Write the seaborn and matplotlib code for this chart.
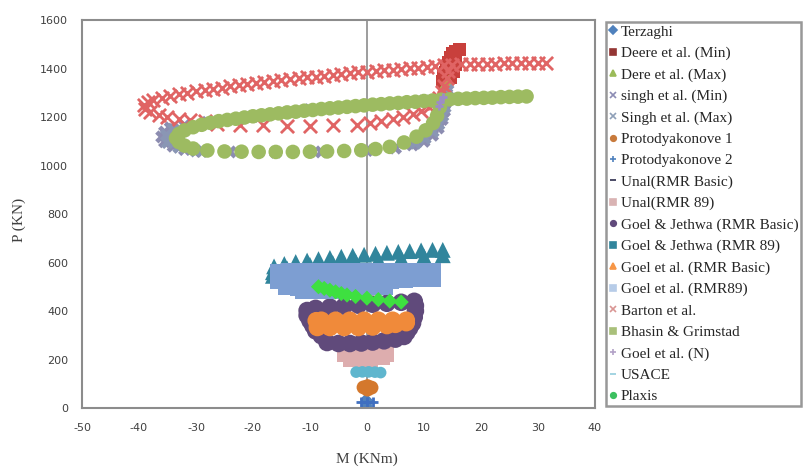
import numpy as np
import pandas as pd
import matplotlib
matplotlib.use("Agg")
import matplotlib.pyplot as plt
from matplotlib.lines import Line2D
import seaborn as sns

# M (KNm) / P (KN), one pair of lists per method
terzaghi_m = [0.0, 0.0, 0.2, -0.2]
terzaghi_p = [8, 18, 28, 36]

deere_min_m = [13.2, 13.5, 13.8, 14.0, 14.3, 14.6, 15.0, 15.5, 16.2, 15.2, 15.6, 15.2, 14.6]
deere_min_p = [1345, 1365, 1385, 1405, 1425, 1445, 1460, 1470, 1478, 1440, 1415, 1390, 1365]

dere_max_m = [12.9, 13.2, 13.5, 13.9, 14.3]
dere_max_p = [1302, 1315, 1328, 1340, 1352]

singh_min_m = [14.0, 13.8, 13.6, 13.2, 12.5, 11.5, 10.0, 8.0, 5.0, 0.0, -8.0, -16.0, -24.0,
               -29.0, -32.0, -34.0, -35.5, -36.0, -35.5, -34.5, -32.0, -28.0, -20.0, -10.0, 0.0, 10.0]
singh_min_p = [1295, 1260, 1225, 1190, 1155, 1125, 1100, 1085, 1072, 1062, 1056, 1055, 1056,
               1058, 1066, 1080, 1098, 1118, 1138, 1155, 1165, 1178, 1203, 1230, 1250, 1266]

singh_max_m = [14.2, 14.0, 13.7, 13.3, 12.6, 11.6, 10.2, 8.5, -30.0, -33.0, -35.0, -35.2, -34.0]
singh_max_p = [1310, 1275, 1240, 1205, 1170, 1140, 1112, 1092, 1060, 1075, 1095, 1125, 1150]

proto1_m = [-0.6, 0.8, 0.1, 0.1]
proto1_p = [85, 84, 76, 90]

proto2_m = [-1.0, 0.0, 1.0]
proto2_p = [24, 25, 24]

unal_basic_m = [-1.0, 0.0, 1.0]
unal_basic_p = [205, 215, 225]

unal89_m = [3.4, 1.5, -0.5, -2.5, -3.9, 2.6, 0.5, -1.5, -2.8]
unal89_p = [222, 222, 222, 222, 222, 212, 203, 200, 200]

gj_basic_m = [8.3, 6.0, 3.5, 1.0, -1.5, -4.0, -6.5, -9.0, -10.5, -10.5, -10.0, -9.5, -9.0,
              -8.0, -7.0, -5.0, -3.0, -1.0, 1.0, 3.0, 5.0, 6.5, 7.0, 7.5, 8.0, 8.3, 8.5, 8.5]
gj_basic_p = [440, 436, 432, 428, 424, 420, 416, 411, 402, 382, 360, 340, 318,
              298, 270, 266, 266, 268, 272, 277, 284, 295, 312, 330, 350, 375, 400, 422]

gj89_m = [13.3, 11.5, 9.5, 7.5, 5.5, 3.5, 1.5, -0.5, -2.5, -4.5, -6.5, -8.5, -10.5, -12.5,
          -14.5, -16.3, 13.3, 10.0, 6.0, 2.0, -2.0, -6.0, -10.0, -14.0, -16.5, -16.5]
gj89_p = [652, 652, 650, 647, 644, 640, 636, 632, 628, 624, 619, 614, 608, 602,
          594, 584, 630, 625, 618, 612, 605, 598, 590, 575, 560, 545]

goel_basic_m = [6.9, 4.5, 2.0, -0.5, -3.0, -5.5, -8.0, -8.9, 3.5, 1.0, -1.5, -4.0, -6.5,
                -8.7, 5.0, 6.9]
goel_basic_p = [362, 362, 362, 362, 362, 362, 362, 360, 340, 334, 332, 332, 332,
                332, 345, 352]

goel89_m = [11.4, 9.0, 6.5, 4.0, 1.5, -1.0, -3.5, -6.0, -8.5, -11.0, -13.5, -15.4,
            11.4, 9.0, 6.5, 4.0, 1.5, -1.0, -3.5, -6.0, -8.5, -11.0, -13.5, -15.4,
            3.0, 0.5, -2.0, -4.5, -7.0, -9.5, -12.0, -14.0,
            -11.0, -8.5, -6.0, -3.5, -1.0]
goel89_p = [562, 562, 562, 562, 562, 562, 562, 562, 562, 562, 560, 556,
            535, 535, 532, 530, 530, 530, 530, 530, 530, 530, 530, 528,
            505, 502, 500, 500, 500, 500, 500, 505,
            488, 488, 488, 490, 492]

barton_m = [31.5, 30.0, 28.5, 27.0, 25.5, 24.0, 22.5, 21.0, 19.5, 18.0, 16.5, 15.0, 13.5,
            12.0, 10.5, 9.0, 7.5, 6.0, 4.5, 3.0, 1.5, 0.0, -1.5, -3.0, -4.5, -6.0, -7.5,
            -9.0, -10.5, -12.0, -13.5, -15.0, -16.5, -18.0, -19.5, -21.0, -22.5, -24.0,
            -25.5, -27.0, -28.5, -30.0, -31.5, -33.0, -34.5, -36.0, -37.5, -38.5, -39.2,
            -39.0, -38.0, -36.5, -35.0, -33.0, -31.0, -28.5, -26.3, -22.3, -18.2, -14.0,
            -10.0, -6.0, -1.8, 0.5, 2.5, 4.5, 6.3, 8.0, 9.5, 10.8, 11.8, 12.6, 13.2, 13.6,
            14.0, 14.3]
barton_p = [1423, 1423, 1422, 1422, 1421, 1421, 1420, 1420, 1419, 1418, 1417, 1416, 1413,
            1410, 1407, 1404, 1401, 1398, 1395, 1392, 1390, 1387, 1384, 1381, 1377, 1374, 1371,
            1367, 1364, 1360, 1356, 1352, 1348, 1344, 1340, 1336, 1331, 1326,
            1321, 1316, 1311, 1306, 1300, 1294, 1288, 1280, 1271, 1260, 1248,
            1235, 1222, 1210, 1200, 1192, 1186, 1182, 1172, 1168, 1166, 1165,
            1165, 1166, 1168, 1175, 1182, 1190, 1200, 1212, 1225, 1240, 1258, 1280, 1305, 1330,
            1360, 1390]

bhasin_m = [28.0, 26.5, 25.0, 23.5, 22.0, 20.5, 19.0, 17.5, 16.0, 14.5, 13.0, 11.5, 10.0,
            8.5, 7.0, 5.5, 4.0, 2.5, 1.0, -0.5, -2.0, -3.5, -5.0, -6.5, -8.0, -9.5, -11.0,
            -12.5, -14.0, -15.5, -17.0, -18.5, -20.0, -21.5, -23.0, -24.5, -26.0, -27.5,
            -29.0, -30.5, -32.0, -33.0, -33.5, -33.0, -32.0, -30.5, -28.0, -25.0, -22.0,
            -19.0, -16.0, -13.0, -10.0, -7.0, -4.0, -1.0, 1.5, 4.0, 6.5, 8.7, 10.3, 11.6,
            12.3, 12.8, 13.1]
bhasin_p = [1285, 1284, 1283, 1282, 1280, 1279, 1278, 1276, 1275, 1273, 1271, 1268, 1266,
            1263, 1261, 1258, 1256, 1253, 1251, 1248, 1245, 1242, 1239, 1236, 1233, 1229, 1226,
            1222, 1219, 1215, 1211, 1207, 1203, 1198, 1193, 1188, 1183, 1176,
            1168, 1158, 1145, 1130, 1113, 1097, 1082, 1070, 1062, 1058, 1057,
            1056, 1056, 1056, 1057, 1058, 1060, 1063, 1068, 1077, 1095, 1119, 1145, 1175,
            1205, 1241, 1270]

goel_n_m = [13.3, 12.9, 12.6]
goel_n_p = [1282, 1262, 1244]

usace_m = [-1.9, -0.8, 0.3, 1.4, 2.4]
usace_p = [148, 149, 149, 148, 146]

plaxis_m = [-8.5, -7.5, -6.5, -5.5, -4.5, -3.5, -2.0, 0.0, 2.0, 4.0, 6.0]
plaxis_p = [500, 493, 486, 479, 472, 466, 460, 453, 447, 441, 437]

names = ['Terzaghi', 'Deere et al. (Min)', 'Dere et al. (Max)', 'singh et al. (Min)',
         'Singh et al. (Max)', 'Protodyakonove 1', 'Protodyakonove 2', 'Unal(RMR Basic)',
         'Unal(RMR 89)', 'Goel & Jethwa (RMR Basic)', 'Goel & Jethwa (RMR 89)',
         'Goel et al. (RMR Basic)', 'Goel et al. (RMR89)', 'Barton et al.',
         'Bhasin & Grimstad', 'Goel et al. (N)', 'USACE', 'Plaxis']
m_lists = [terzaghi_m, deere_min_m, dere_max_m, singh_min_m, singh_max_m, proto1_m, proto2_m,
           unal_basic_m, unal89_m, gj_basic_m, gj89_m, goel_basic_m, goel89_m, barton_m,
           bhasin_m, goel_n_m, usace_m, plaxis_m]
p_lists = [terzaghi_p, deere_min_p, dere_max_p, singh_min_p, singh_max_p, proto1_p, proto2_p,
           unal_basic_p, unal89_p, gj_basic_p, gj89_p, goel_basic_p, goel89_p, barton_p,
           bhasin_p, goel_n_p, usace_p, plaxis_p]

df = pd.concat([pd.DataFrame({'M': m, 'P': p, 'serie': n})
                for n, m, p in zip(names, m_lists, p_lists)], ignore_index=True)

# estilos: cor, marcador no grafico, tamanho, marcador na legenda
colors = ['#4F81BD', '#C8403C', '#B5B048', '#8C8CB0', '#8A96B4', '#D4782C', '#3F6FC0',
          '#2C2C4C', '#DDADAE', '#604A7B', '#31859C', '#F08A3A', '#7D9ED2', '#E06464',
          '#9DBB61', '#9C8CC8', '#5FB6CE', '#3EE040']
plot_markers = ['D', 's', '^', 'X', 'X', 'o', '+', '_', 's', 'o', '^', 'o', 's', 'x',
                'o', '+', 'o', 'D']
sizes = [35, 90, 60, 90, 90, 100, 60, 30, 130, 160, 130, 160, 170, 90, 110, 40, 70, 60]
legend_markers = ['D', 's', '^', 'x', 'x', 'o', '+', '_', 's', 'o', 's', '^', 's', 'x',
                  's', '+', '_', 'o']
legend_colors = ['#4F81BD', '#943634', '#9BBB59', '#8C8CB4', '#8FA0B8', '#C87A3C', '#4F81BD',
                 '#2C2C4C', '#D9B3B3', '#604A7B', '#31859C', '#F79646', '#B7CCE8', '#D99694',
                 '#A9C07A', '#B3A2C7', '#93CDDD', '#3CC060']

sns.set_style("white")
plt.rcParams['font.family'] = ['DejaVu Sans']
plt.rcParams['axes.unicode_minus'] = False

fig = plt.figure(figsize=(8.1, 4.68), dpi=100)
ax = fig.add_axes([0.1012, 0.1282, 0.6333, 0.829])

ax.axvline(0, color='#8C8C8C', lw=1.2, zorder=0)

for i, n in enumerate(names):
    sub = df[df['serie'] == n]
    mk = plot_markers[i]
    if mk in ['x', '+', '_']:
        sns.scatterplot(data=sub, x='M', y='P', ax=ax, color=colors[i], marker=mk,
                        s=sizes[i], linewidth=2.0, legend=False)
    else:
        sns.scatterplot(data=sub, x='M', y='P', ax=ax, color=colors[i], marker=mk,
                        s=sizes[i], edgecolor='none', linewidth=0, legend=False)

ax.set_xlim(-50, 40)
ax.set_ylim(0, 1600)
ax.set_xticks(range(-50, 41, 10))
ax.set_yticks(range(0, 1601, 200))
ax.tick_params(axis='x', direction='in', length=4, color='#8C8C8C', labelsize=8,
               labelcolor='#404040', pad=11)
ax.tick_params(axis='y', direction='out', length=2, color='#8C8C8C', labelsize=8,
               labelcolor='#404040', pad=8)
for s in ax.spines.values():
    s.set_color('#8C8C8C')
    s.set_linewidth(1.5)

ax.set_xlabel('M (KNm)', fontfamily='Liberation Serif', fontsize=11, color='#404040')
ax.set_ylabel('P (KN)', fontfamily='Liberation Serif', fontsize=11, color='#404040')
ax.xaxis.set_label_coords(0.556, -0.115)
ax.yaxis.set_label_coords(-0.109, 0.485)

handles = []
for i in range(len(names)):
    handles.append(Line2D([], [], linestyle='none', marker=legend_markers[i],
                          color=legend_colors[i], markersize=4, markeredgewidth=1.2))
leg = fig.legend(handles, names, loc='upper left', bbox_to_anchor=(606 / 810, 1 - 22 / 468),
                 borderaxespad=0, frameon=True, fancybox=False, edgecolor='#7F7F7F',
                 prop={'family': 'Liberation Serif', 'size': 11}, labelspacing=0.5,
                 handlelength=0.5, handletextpad=0.25, borderpad=0.2)
leg.get_frame().set_linewidth(1.8)

plt.savefig('out.png', dpi=100)
